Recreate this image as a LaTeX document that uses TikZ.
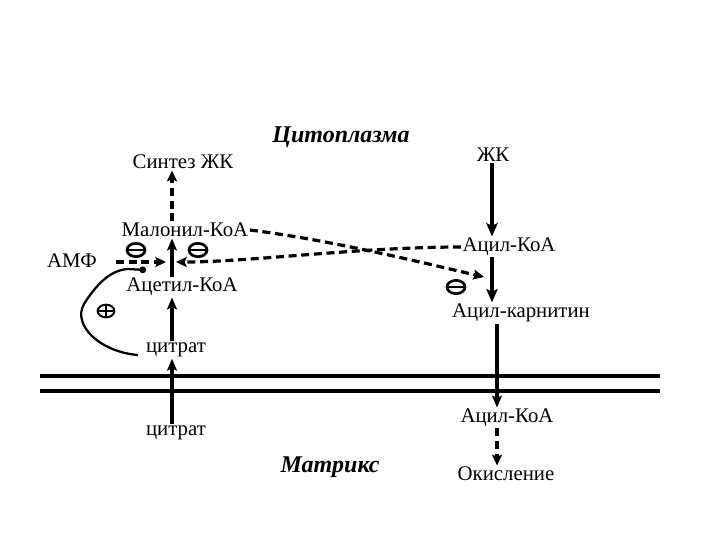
\documentclass[tikz,border=0pt]{standalone}
\usepackage{fontspec}
\setmainfont{Liberation Serif}
\usetikzlibrary{arrows.meta,shapes.geometric}
\begin{document}
\begin{tikzpicture}[x=0.75pt,y=-0.75pt,
  lbl/.style={font=\fontsize{15.6}{18}\selectfont, inner sep=1pt},
  hdr/.style={font=\fontsize{18}{21}\selectfont\bfseries\itshape, inner sep=1pt},
  solidarr/.style={line width=2.4pt, -{Stealth[length=9pt,width=7.5pt,inset=2pt]}},
  boldarr/.style={line width=2.8pt, -{Stealth[length=10pt,width=8.5pt,inset=2pt]}},
  dasharr/.style={line width=2.4pt, dash pattern=on 6pt off 3.5pt, -{Stealth[length=8pt,width=7.5pt,inset=1.5pt]}},
  membrane/.style={line width=3.4pt},
  minus/.style={ellipse, draw, line width=2pt, minimum width=13.5pt, minimum height=10pt, inner sep=0pt,
    path picture={\draw[line width=2pt] (path picture bounding box.west) -- (path picture bounding box.east);}},
  plus/.style={ellipse, draw, line width=1.5pt, minimum width=12.5pt, minimum height=9.5pt, inner sep=0pt,
    path picture={\draw[line width=1.5pt] (path picture bounding box.west) -- (path picture bounding box.east)
      (path picture bounding box.north) -- (path picture bounding box.south);}},
  curve/.style={line width=1.7pt}
]
\useasboundingbox (0,0) rectangle (720,540);
\fill[white] (0,0) rectangle (720,540);

% axes
\coordinate (axL) at (172,0);
\coordinate (axR) at (492,0);
\coordinate (axR2) at (497,0);

% labels
\node[hdr] (cyt) at (341,137) {Цитоплазма};
\node[hdr] (mat) at (330,467) {Матрикс};
\node[lbl] (sint) at (183,162) {Синтез ЖК};
\node[lbl] (mal) at (185,230) {Малонил-КоА};
\node[lbl] (amf) at (72,261) {АМФ};
\node[lbl] (acet) at (182,287) {Ацетил-КоА};
\node[lbl] (cit1) at (176,350) {цитрат};
\node[lbl] (cit2) at (176,433) {цитрат};
\node[lbl] (zk) at (493,155) {ЖК};
\node[lbl] (acyl1) at (509,247) {Ацил-КоА};
\node[lbl] (carn) at (521,313) {Ацил-карнитин};
\node[lbl] (acyl2) at (507,418) {Ацил-КоА};
\node[lbl] (ok) at (506,474) {Окисление};

% membrane
\coordinate (m1l) at (40,376);
\coordinate (m1r) at (660,376);
\coordinate (m2l) at (40,391);
\coordinate (m2r) at (660,391);
\draw[membrane] (m1l) -- (m1r);
\draw[membrane] (m2l) -- (m2r);

% left pathway
\draw[dasharr] (mal.north -| axL) -- (sint.south -| axL);
\draw[solidarr] (acet.north -| axL) -- (mal.south -| axL);
\draw[solidarr] (cit1.north -| axL) -- (acet.south -| axL);
\draw[solidarr] (cit2.north -| axL) -- (cit1.south -| axL);

% right pathway
\draw[boldarr] (zk.south -| axR) -- (acyl1.north -| axR);
\draw[boldarr] (acyl1.south -| axR) -- (carn.north -| axR);
\draw[solidarr] (carn.south -| axR2) -- (acyl2.north -| axR2);
\draw[dasharr] (acyl2.south -| axR2) -- (ok.north -| axR2);

% regulation
\coordinate (amfs) at (116,262);
\coordinate (tipA) at (166,262);
\coordinate (tipB) at (176,262);
\coordinate (tipC) at (484,277);
\coordinate (dot) at (146,270);
\coordinate (cstart) at (138,355);
\draw[dasharr] (amfs) -- (tipA);
\draw[dasharr] (acyl1.west) .. controls (360,247) and (250,262) .. (tipB);
\draw[dasharr] (mal.east) .. controls (330,240) and (420,262) .. (tipC);

\node[minus] (i1) at (136,250) {};
\node[minus] (i2) at (198,250) {};
\node[minus] (i3) at (456,287) {};
\node[plus] (p1) at (106,311) {};

\draw[curve, -{Circle[length=5pt]}] (cstart) .. controls (100,352) and (72,325) .. (84,304)
  .. controls (96,285) and (110,270) .. (128,269) -- (dot);
\end{tikzpicture}
\end{document}
